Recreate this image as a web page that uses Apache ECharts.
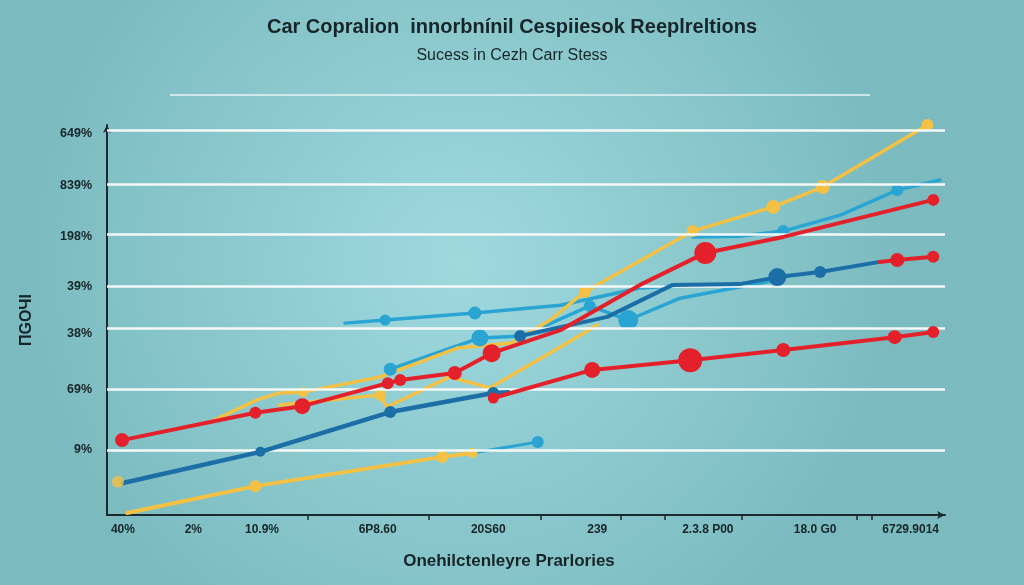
<!DOCTYPE html>
<html>
<head>
<meta charset="utf-8">
<script src="https://cdn.jsdelivr.net/npm/echarts@6/dist/echarts.min.js"></script>
<style>html,body{margin:0;padding:0;}#c{width:1024px;height:585px;}</style>
</head>
<body>
<div id="c"></div>
<script>
// ---- tick labels ----
const xLabelPos = [1.9, 10.3, 18.5, 32.3, 45.5, 58.5, 71.7, 84.5, 95.9];
const xLabels = ['40%', '2%', '10.9%', '6P8.60', '20S60', '239', '2.3.8 P00', '18.0 G0', '6729.9014'];
const xTickPos = [23.9, 38.4, 51.8, 61.3, 66.6, 75.8, 89.5, 91.2];
const yLabelPos = [97.9, 84.4, 71.3, 58.7, 46.4, 32.1, 16.9];
const yLabels = ['649%', '839%', '198%', '39%', '38%', '69%', '9%'];
const yGridPos = [98.7, 84.9, 72.1, 58.7, 47.9, 32.3, 16.7];

// ---- series values ----
const redUpperX = [1.8, 17.7, 23.3, 33.5, 35.0, 41.5, 45.9, 54.1, 63.6, 71.4, 80.7, 98.6];
const redUpperY = [19.2, 26.2, 27.9, 33.8, 34.6, 36.4, 41.5, 47.4, 59.0, 67.2, 71.3, 80.8];
const redLowerX = [46.1, 57.9, 69.6, 80.7, 94.0, 98.6];
const redLowerY = [30.0, 37.2, 39.7, 42.3, 45.6, 46.9];
const redShortX = [92.2, 94.3, 98.6];
const redShortY = [64.9, 65.4, 66.2];
const darkBlueLowerX = [1.9, 18.3, 33.8, 46.1, 47.9];
const darkBlueLowerY = [8.2, 16.2, 26.4, 31.3, 31.5];
const darkBlueUpperX = [49.3, 59.7, 67.5, 75.5, 80.0, 85.1, 92.2];
const darkBlueUpperY = [45.9, 50.8, 59.0, 59.2, 61.0, 62.3, 64.9];
const lightBlueAX = [28.4, 33.2, 43.9, 54.1, 63.6, 67.8];
const lightBlueAY = [49.2, 50.0, 51.8, 53.8, 58.2, 58.7];
const lightBlueBX = [33.8, 44.5, 49.6, 57.6, 62.2, 68.4, 80.0];
const lightBlueBY = [37.4, 45.4, 45.9, 53.6, 50.0, 55.6, 60.3];
const lightBlueCX = [69.9, 75.5, 80.7, 87.5, 94.3, 99.4];
const lightBlueCY = [71.3, 71.5, 72.8, 76.9, 83.3, 85.9];
const lightBlueShortX = [43.6, 51.4];
const lightBlueShortY = [15.9, 18.7];
const yellowAX = [12.3, 17.9, 20.6, 23.4, 32.6, 41.8, 48.3, 52.9, 57.0, 69.9, 79.5, 85.4, 97.9];
const yellowAY = [23.8, 29.5, 31.3, 31.5, 35.4, 42.8, 44.1, 50.0, 57.2, 72.8, 79.0, 84.1, 100.0];
const yellowBX = [20.6, 32.6, 33.4, 40.9, 45.7, 54.1, 58.5];
const yellowBY = [28.2, 30.8, 27.7, 35.4, 32.6, 43.1, 48.7];
const yellowLowerX = [2.4, 17.7, 40.0, 43.6];
const yellowLowerY = [0.5, 7.4, 14.9, 15.9];
const yellowDotX = [1.3];
const yellowDotY = [8.5];

const RED = '#e4212b', DBLUE = '#1c6ea6', LBLUE = '#2aa5d3', YEL = '#f4c144';

function line(name, xs, ys, color, width, sizes, z) {
  return {
    type: 'line', name: name,
    data: xs.map((x, i) => [x, ys[i]]),
    lineStyle: { color: color, width: width, cap: 'round', join: 'round' },
    itemStyle: { color: color },
    symbol: 'circle',
    symbolSize: (v, p) => sizes[p.dataIndex] || 0,
    showSymbol: true, showAllSymbol: true,
    clip: false, z: z, animation: false, silent: true
  };
}

const chart = echarts.init(document.getElementById('c'), null, { renderer: 'canvas' });
chart.setOption({
  animation: false,
  backgroundColor: {
    type: 'radial', x: 0.45, y: 0.45, r: 0.75,
    colorStops: [{ offset: 0, color: '#9ed9de' }, { offset: 1, color: '#7bbbbf' }]
  },
  title: [
    { text: 'Car Copralion  innorbnínil Cespiiesok Reeplreltions', left: 'center', top: 12,
      textStyle: { fontFamily: 'Liberation Sans', fontWeight: 'bold', fontSize: 20, color: '#16252a' } },
    { text: 'Sucess in Cezh Carr Stess', left: 'center', top: 43,
      textStyle: { fontFamily: 'Liberation Sans', fontWeight: 'normal', fontSize: 16, color: '#16252a' } }
  ],
  graphic: [
    { type: 'line', shape: { x1: 170, y1: 95, x2: 870, y2: 95 }, style: { stroke: '#e9f3f3', lineWidth: 1.5 }, silent: true }
  ],
  grid: { left: 107, right: 79, top: 125, bottom: 70 },
  xAxis: {
    type: 'value', min: 0, max: 100,
    name: 'Onehilctenleyre Prarlories', nameLocation: 'middle', nameGap: 38,
    nameTextStyle: { fontFamily: 'Liberation Sans', fontWeight: 'bold', fontSize: 17, color: '#16252a', padding: [0, 34, 0, 0] },
    axisLine: { show: true, lineStyle: { color: '#1c2a30', width: 2 }, symbol: ['none', 'arrow'], symbolSize: [6, 8] },
    axisTick: { show: true, customValues: xTickPos, length: 5, inside: false, lineStyle: { color: '#1c2a30', width: 1.5 } },
    axisLabel: {
      customValues: xLabelPos, margin: 9,
      formatter: v => xLabels[xLabelPos.indexOf(v)] || '',
      fontFamily: 'Liberation Sans', fontWeight: 'bold', fontSize: 12, color: '#16252a'
    },
    splitLine: { show: false }
  },
  yAxis: {
    type: 'value', min: 0, max: 100,
    name: 'ПGOЧI', nameLocation: 'middle', nameGap: 72, nameRotate: 90,
    nameTextStyle: { fontFamily: 'Liberation Sans', fontWeight: 'bold', fontSize: 16, color: '#16252a' },
    axisLine: { show: true, lineStyle: { color: '#1c2a30', width: 2 }, symbol: ['none', 'arrow'], symbolSize: [6, 8] },
    axisTick: { show: false },
    axisLabel: {
      customValues: yLabelPos, margin: 15,
      formatter: v => yLabels[yLabelPos.indexOf(v)] || '',
      fontFamily: 'Liberation Sans', fontWeight: 'bold', fontSize: 12.5, color: '#16252a'
    },
    splitLine: { show: false }
  },
  series: [
    {
      type: 'line', name: 'grid', data: [], z: 1, silent: true,
      markLine: {
        silent: true, symbol: ['none', 'none'], animation: false,
        label: { show: false },
        lineStyle: { color: '#f4f8f8', width: 2.5, type: 'solid' },
        data: yGridPos.map(v => ({ yAxis: v }))
      }
    },
    line('yellowLower', yellowLowerX, yellowLowerY, YEL, 4, [0, 12, 12, 10], 3),
    line('lightBlueShort', lightBlueShortX, lightBlueShortY, LBLUE, 3, [0, 12], 3),
    line('yellowB', yellowBX, yellowBY, YEL, 3.5, [0, 12, 0, 0, 0, 0, 0], 3),
    line('lightBlueA', lightBlueAX, lightBlueAY, LBLUE, 3.5, [0, 11, 13, 0, 0, 0], 3),
    line('lightBlueB', lightBlueBX, lightBlueBY, LBLUE, 3.5, [13, 17, 0, 12, 20, 0, 0], 4),
    line('yellowA', yellowAX, yellowAY, YEL, 3.5, [0, 0, 0, 10, 0, 0, 0, 0, 12, 12, 14, 14, 12], 4),
    line('lightBlueC', lightBlueCX, lightBlueCY, LBLUE, 3.5, [0, 0, 12, 0, 12, 0], 4),
    line('darkBlueLower', darkBlueLowerX, darkBlueLowerY, DBLUE, 4.5, [0, 10, 12, 12, 0], 5),
    line('darkBlueUpper', darkBlueUpperX, darkBlueUpperY, DBLUE, 4, [12, 0, 0, 0, 18, 12, 0], 5),
    line('redLower', redLowerX, redLowerY, RED, 4, [11, 16, 24, 14, 14, 12], 6),
    line('redShort', redShortX, redShortY, RED, 4, [0, 14, 12], 6),
    line('redUpper', redUpperX, redUpperY, RED, 4, [14, 12, 16, 12, 12, 14, 18, 0, 0, 22, 0, 12], 6),
    {
      type: 'scatter', name: 'yellowDot', data: yellowDotX.map((x, i) => [x, yellowDotY[i]]),
      symbolSize: 12, itemStyle: { color: YEL }, z: 6, silent: true
    }
  ]
});
</script>
</body>
</html>
